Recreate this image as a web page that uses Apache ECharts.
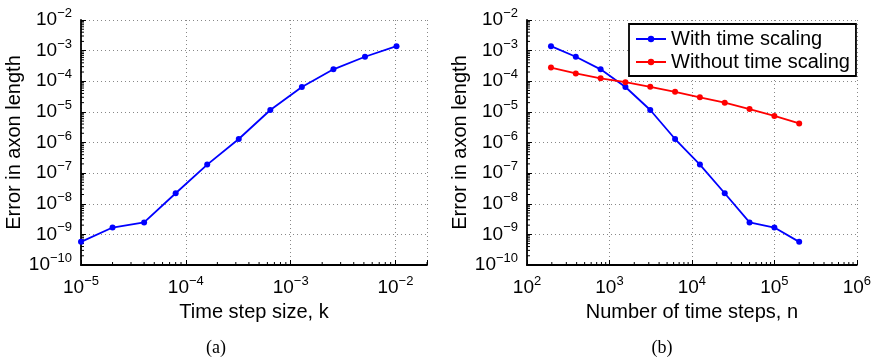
<!DOCTYPE html>
<html>
<head>
<meta charset="utf-8">
<script src="https://cdn.jsdelivr.net/npm/echarts@6/dist/echarts.min.js"></script>
<style>
  html, body { margin: 0; padding: 0; background: #fff; }
  #chart { width: 874px; height: 358px; }
</style>
</head>
<body>
<div id="chart"></div>
<script>
// data
var stepSizes = [1.024e-2, 5.12e-3, 2.56e-3, 1.28e-3, 6.4e-4, 3.2e-4, 1.6e-4, 8e-5, 4e-5, 2e-5, 1e-5];
var timeSteps = [195.3125, 390.625, 781.25, 1562.5, 3125, 6250, 12500, 25000, 50000, 100000, 200000];
var errWithScaling = [1.4e-3, 6.3e-4, 2.45e-4, 6.5e-5, 1.15e-5, 1.3e-6, 1.9e-7, 2.2e-8, 2.45e-9, 1.67e-9, 5.7e-10];
var errWithoutScaling = [2.8e-4, 1.8e-4, 1.25e-4, 9.3e-5, 6.6e-5, 4.5e-5, 3.0e-5, 2.0e-5, 1.23e-5, 7.4e-6, 4.2e-6];
var seriesNames = ['With time scaling', 'Without time scaling'];
var captions = ['(a)', '(b)'];

var FONT = 'Liberation Sans, Arial, sans-serif';
var SERIF = 'Liberation Serif, Times New Roman, serif';

function pairs(xs, ys) {
    return xs.map(function (x, i) { return [x, ys[i]]; });
}

// 10^n labels
function powLabel(v) {
    var e = Math.log10(v);
    if (Math.abs(e - Math.round(e)) > 1e-6) return '';
    e = Math.round(e);
    return '{b|10}{s|' + (e < 0 ? '\u2212' + (-e) : e) + '}';
}
var powRich = {
    b: {fontSize: 19, fontFamily: FONT, color: '#000', lineHeight: 26, verticalAlign: 'middle'},
    s: {fontSize: 13, fontFamily: FONT, color: '#000', verticalAlign: 'top'}
};

// minor tick positions (2..9 in each decade) between two decade exponents
function minorVals(e0, e1, maxV) {
    var out = [];
    for (var e = e0; e < e1; e++) {
        for (var m = 2; m <= 9; m++) {
            var v = m * Math.pow(10, e);
            if (v <= maxV) out.push(v);
        }
    }
    return out;
}

function logAxis(min, max, split, name, nameGap, isY) {
    return {
        type: 'log',
        logBase: 10,
        min: min,
        max: max,
        splitNumber: split,
        name: name,
        nameLocation: 'middle',
        nameGap: nameGap,
        nameTextStyle: {fontSize: 20, fontFamily: FONT, color: '#000'},
        axisLine: {show: true, lineStyle: {color: '#000', width: 1.8}},
        axisTick: {show: true, inside: true, length: 5, lineStyle: {color: '#000'}},
        axisLabel: {formatter: powLabel, rich: powRich, margin: isY ? 9 : 10,
            showMinLabel: true, showMaxLabel: true},
        splitLine: {show: true, lineStyle: {color: '#888', width: 1, type: [1, 3]}}
    };
}

function minorTickSeries(gi, xVals, yVals, xMin, yMin) {
    var data = xVals.map(function (v) { return [v, yMin, 0]; })
        .concat(yVals.map(function (v) { return [xMin, v, 1]; }));
    return {
        type: 'custom', xAxisIndex: gi, yAxisIndex: gi, silent: true, clip: false, z: 1,
        data: data,
        renderItem: function (params, api) {
            var p = api.coord([api.value(0), api.value(1)]);
            var vert = api.value(2) === 0;
            return {
                type: 'line',
                shape: vert ? {x1: p[0], y1: p[1], x2: p[0], y2: p[1] - 3}
                            : {x1: p[0], y1: p[1], x2: p[0] + 3, y2: p[1]},
                style: {stroke: '#000', lineWidth: 1}
            };
        }
    };
}

var chart = echarts.init(document.getElementById('chart'), null, {renderer: 'canvas'});

var lineStyleOf = function (c) {
    return {
        symbol: 'circle', symbolSize: 6,
        lineStyle: {color: c, width: 1.8},
        itemStyle: {color: c}
    };
};

var option = {
    animation: false,
    backgroundColor: '#fff',
    title: [
        {text: captions[0], left: 211, top: 334, textAlign: 'center',
            textStyle: {fontFamily: SERIF, fontSize: 18, fontWeight: 'normal', color: '#000'}},
        {text: captions[1], left: 657, top: 334, textAlign: 'center',
            textStyle: {fontFamily: SERIF, fontSize: 18, fontWeight: 'normal', color: '#000'}}
    ],
    grid: [
        {left: 81, top: 20, width: 346, height: 245},
        {left: 527, top: 20, width: 332, height: 245}
    ],
    legend: {
        data: seriesNames,
        orient: 'vertical',
        left: 629,
        top: 24,
        padding: [5, 6, 4, 6],
        itemGap: 3,
        itemWidth: 30,
        itemHeight: 8,
        backgroundColor: '#fff',
        borderColor: '#000',
        borderWidth: 1.8,
        textStyle: {fontSize: 20, fontFamily: FONT, color: '#000'}
    },
    xAxis: [
        Object.assign(logAxis(1e-5, 2e-2, 4, 'Time step size, k', 25, false), {gridIndex: 0}),
        Object.assign(logAxis(1e2, 1e6, 4, 'Number of time steps, n', 25, false), {gridIndex: 1})
    ],
    yAxis: [
        Object.assign(logAxis(1e-10, 1e-2, 8, 'Error in axon length', 50, true), {gridIndex: 0}),
        Object.assign(logAxis(1e-10, 1e-2, 8, 'Error in axon length', 50, true), {gridIndex: 1})
    ],
    series: [
        Object.assign({name: 'k', type: 'line', xAxisIndex: 0, yAxisIndex: 0, z: 3,
            data: pairs(stepSizes, errWithScaling)}, lineStyleOf('#0000ff')),
        Object.assign({name: seriesNames[0], type: 'line', xAxisIndex: 1, yAxisIndex: 1, z: 3,
            data: pairs(timeSteps, errWithScaling)}, lineStyleOf('#0000ff')),
        Object.assign({name: seriesNames[1], type: 'line', xAxisIndex: 1, yAxisIndex: 1, z: 3,
            data: pairs(timeSteps, errWithoutScaling)}, lineStyleOf('#ff0000')),
        minorTickSeries(0, minorVals(-5, -1, 2e-2), minorVals(-10, -2, 1e-2), 1e-5, 1e-10),
        minorTickSeries(1, minorVals(2, 6, 1e6), minorVals(-10, -2, 1e-2), 1e2, 1e-10)
    ]
};

chart.setOption(option);
</script>
</body>
</html>
